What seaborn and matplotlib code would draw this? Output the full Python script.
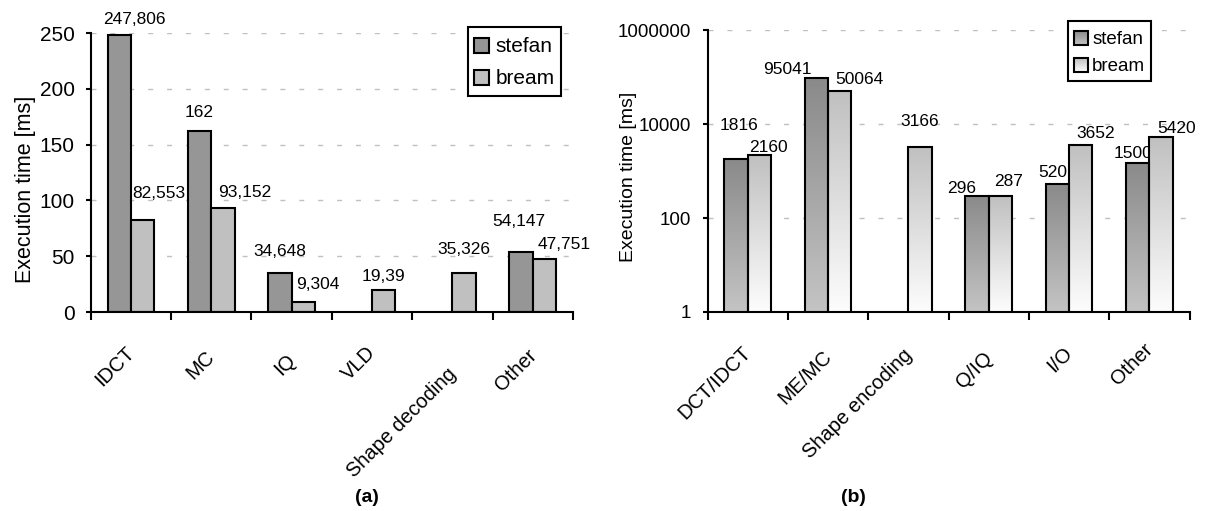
import numpy as np
import pandas as pd
import matplotlib
matplotlib.use("Agg")
import matplotlib.pyplot as plt
import seaborn as sns
from matplotlib.colors import LinearSegmentedColormap, Normalize
from matplotlib.legend_handler import HandlerBase
from matplotlib.image import BboxImage
from matplotlib.transforms import Bbox, TransformedBbox
from matplotlib.patches import Rectangle, Patch
from matplotlib.ticker import FixedLocator, FixedFormatter

# ---------------- data ----------------
series = ["stefan", "bream"]

cats_a = ["IDCT", "MC", "IQ", "VLD", "Shape decoding", "Other"]
stefan_a = [247.806, 162, 34.648, np.nan, np.nan, 54.147]
bream_a = [82.553, 93.152, 9.304, 19.39, 35.326, 47.751]

cats_b = ["DCT/IDCT", "ME/MC", "Shape encoding", "Q/IQ", "I/O", "Other"]
stefan_b = [1816, 95041, np.nan, 296, 520, 1500]
bream_b = [2160, 50064, 3166, 287, 3652, 5420]

ticks_a = [0, 50, 100, 150, 200, 250]
ticks_b = [1, 100, 10000, 1000000]
tick_labels_b = ["1", "100", "10000", "1000000"]

# ---------------- layout helpers (pixels) ----------------
nudge_a = {"stefan": [(15, 11), (0, 14), (0, 17), None, None, (-2, 26)],
           "bream": [(16, 22), (22, 11), (14, 13), (0, 9), (0, 19), (20, 10)]}
nudge_b = {"stefan": [(3, 29), (-29, 4), None, (-15, 3), (-4, 7), (-5, 5)],
           "bream": [(9, 3), (20, 7), (0, 21), (8, 10), (15, 7), (16, 4)]}
xlab_drop_a = [31, 35, 38, 31, 52, 34]
xlab_drop_b = [31, 35, 34, 36, 31, 28]

# ---------------- style ----------------
sns.set_style("white")
plt.rcParams["font.family"] = ["Liberation Sans", "DejaVu Sans"]
plt.rcParams.update({"text.color": "black", "axes.labelcolor": "black",
                     "xtick.color": "black", "ytick.color": "black"})

W, H = 1206, 511
fig = plt.figure(figsize=(W / 100, H / 100), dpi=100)
axA = fig.add_axes([90.7 / W, 1 - 312 / H, 482.3 / W, 279 / H])
axB = fig.add_axes([707.5 / W, 1 - 312 / H, 482 / W, 282 / H])


def long_df(cats, s, b):
    rows = []
    for c, v in zip(cats, s):
        if not np.isnan(v):
            rows.append((c, "stefan", v))
    for c, v in zip(cats, b):
        if not np.isnan(v):
            rows.append((c, "bream", v))
    return pd.DataFrame(rows, columns=["cat", "series", "val"])


def fmt(v):
    return f"{v:g}".replace(".", ",")


grid_ls = (0, (3.6, 10.0))


def style_axis(ax, cats, tick_fs, drops):
    ax.set_axisbelow(True)
    for sp in ["top", "right"]:
        ax.spines[sp].set_visible(False)
    for sp in ["left", "bottom"]:
        ax.spines[sp].set_linewidth(1.5)
        ax.spines[sp].set_color("black")
    ax.set_xlim(-0.5, len(cats) - 0.5)
    ax.set_xticks(range(len(cats)))
    ax.set_xticklabels([])
    ax.set_xticks(np.arange(-0.5, len(cats)), minor=True)
    ax.tick_params(axis="x", which="major", length=0)
    ax.tick_params(axis="x", which="minor", length=5.8, width=1.5,
                   direction="out", color="black", bottom=True)
    ax.tick_params(axis="y", which="major", length=3.6, width=1.5,
                   direction="out", color="black", left=True,
                   labelsize=tick_fs, pad=8)
    ax.tick_params(axis="y", which="minor", length=0, left=False)
    ax.yaxis.grid(True, which="major", color="#c0c0c0", lw=1, linestyle=grid_ls)
    ax.xaxis.grid(False)
    ax.set_xlabel("")
    for i, c in enumerate(cats):
        ax.annotate(c, xy=(i, 0), xycoords=ax.get_xaxis_transform(),
                    xytext=(-6, -drops[i]), textcoords="offset pixels",
                    rotation=45, ha="right", va="top", rotation_mode="anchor",
                    fontsize=14.5, annotation_clip=False)


class SquareHandler(HandlerBase):
    def __init__(self, cmap, size_px):
        super().__init__()
        self.cmap = cmap
        self.size = size_px

    def create_artists(self, legend, orig_handle, xdescent, ydescent,
                       width, height, fontsize, trans):
        s = self.size * 72 / 100
        x = -xdescent + (width - s) / 2
        y = -ydescent + (height - s) / 2
        bb = TransformedBbox(Bbox.from_bounds(x, y, s, s), trans)
        img = BboxImage(bb, cmap=self.cmap, norm=Normalize(0, 1),
                        interpolation="bilinear", origin="lower")
        img.set_data(grad)
        rect = Rectangle((x, y), s, s, facecolor="none", edgecolor="black",
                         lw=1.5, transform=trans)
        return [img, rect]


grad = np.linspace(0, 1, 256).reshape(-1, 1)

# ---------------- panel (a) ----------------
colA = {"stefan": "#969696", "bream": "#c0c0c0"}
dfA = long_df(cats_a, stefan_a, bream_a)
sns.barplot(data=dfA, x="cat", y="val", hue="series", order=cats_a,
            hue_order=series, palette=colA,
            saturation=1, width=0.58, edgecolor="black", linewidth=1.5,
            errorbar=None, legend=False, ax=axA)
axA.set_ylim(0, 250)
axA.set_yticks(ticks_a)
style_axis(axA, cats_a, 15, xlab_drop_a)
axA.set_ylabel("Execution time [ms]", fontsize=15.5)
axA.yaxis.set_label_coords((36 - 90.7) / 482.3, (312 - 189) / 279)

vals_a = {"stefan": stefan_a, "bream": bream_a}
for s, cont in zip(series, axA.containers):
    for bar in cont:
        cx = bar.get_x() + bar.get_width() / 2
        i = int(round(cx))
        dx, dy = nudge_a[s][i]
        axA.annotate(fmt(vals_a[s][i]), xy=(cx, bar.get_y() + bar.get_height()),
                     xytext=(dx, dy), textcoords="offset pixels",
                     ha="center", va="baseline", fontsize=12.5, zorder=0.9)

hA = [Patch(facecolor=colA[s]) for s in series]
legA = axA.legend(handles=hA, labels=series, loc="upper right",
                  bbox_to_anchor=(561 / W, 1 - 27 / H),
                  bbox_transform=fig.transFigure, fontsize=15,
                  handler_map={h: SquareHandler(
                      LinearSegmentedColormap.from_list("c", [colA[s], colA[s]]), 15)
                      for h, s in zip(hA, series)},
                  handlelength=0.75, handleheight=1.43, handletextpad=0.3,
                  labelspacing=0.35, borderpad=0.3, borderaxespad=0,
                  fancybox=False, framealpha=1, edgecolor="black")
legA.get_frame().set_linewidth(1.5)

# ---------------- panel (b) ----------------
grad_cols = {"stefan": ("#c4c4c4", "#8a8a8a"),   # (bottom, top)
             "bream": ("#fdfdfd", "#c0c0c0")}
cmaps = {s: LinearSegmentedColormap.from_list(s, list(grad_cols[s])) for s in series}

axB.set_yscale("log")
dfB = long_df(cats_b, stefan_b, bream_b)
sns.barplot(data=dfB, x="cat", y="val", hue="series", order=cats_b,
            hue_order=series, palette={"stefan": "#a8a8a8", "bream": "#e0e0e0"},
            saturation=1, width=0.585, edgecolor="black", linewidth=1.5,
            errorbar=None, legend=False, ax=axB)
axB.set_ylim(1, 1e6)
axB.yaxis.set_major_locator(FixedLocator(ticks_b))
axB.yaxis.set_major_formatter(FixedFormatter(tick_labels_b))
axB.yaxis.set_minor_locator(FixedLocator([]))
style_axis(axB, cats_b, 13.5, xlab_drop_b)
axB.set_ylabel("Execution time [ms]", fontsize=14)
axB.yaxis.set_label_coords((637 - 707.5) / 482, (312 - 177) / 282)
axB.set_autoscale_on(False)

tr = axB.transData + axB.transAxes.inverted()
vals_b = {"stefan": stefan_b, "bream": bream_b}
ybot = axB.get_ylim()[0]
for s, cont in zip(series, axB.containers):
    for bar in cont:
        x0 = bar.get_x()
        x1 = x0 + bar.get_width()
        top = bar.get_y() + bar.get_height()
        (ax0, ay0) = tr.transform((x0, ybot))
        (ax1, ay1) = tr.transform((x1, top))
        im = axB.imshow(grad, cmap=cmaps[s], norm=Normalize(0, 1), origin="lower",
                        extent=(ax0, ax1, ay0, ay1), transform=axB.transAxes,
                        aspect="auto", interpolation="bilinear", zorder=0.95)
        im.set_clip_path(bar)
        bar.set_facecolor("none")
        bar.set_zorder(1)
        cx = (x0 + x1) / 2
        i = int(round(cx))
        dx, dy = nudge_b[s][i]
        axB.annotate(fmt(vals_b[s][i]), xy=(cx, top), xytext=(dx, dy),
                     textcoords="offset pixels", ha="center", va="baseline",
                     fontsize=12.5, zorder=0.9)
axB.set_xlim(-0.5, len(cats_b) - 0.5)
axB.set_ylim(1, 1e6)

hB = [Patch(facecolor="#a8a8a8"), Patch(facecolor="#e0e0e0")]
legB = axB.legend(handles=hB, labels=series, loc="upper right",
                  bbox_to_anchor=(1151 / W, 1 - 21 / H),
                  bbox_transform=fig.transFigure, fontsize=13.5,
                  handler_map={hB[0]: SquareHandler(cmaps["stefan"], 14),
                               hB[1]: SquareHandler(cmaps["bream"], 14)},
                  handlelength=0.75, handleheight=1.41, handletextpad=0.22,
                  labelspacing=0.3, borderpad=0.3, borderaxespad=0,
                  fancybox=False, framealpha=1, edgecolor="black")
legB.get_frame().set_linewidth(1.5)

fig.text(367 / W, 1 - 497 / H, "(a)", ha="center", va="center",
         fontsize=14, fontweight="bold")
fig.text(853 / W, 1 - 497 / H, "(b)", ha="center", va="center",
         fontsize=14, fontweight="bold")

fig.savefig("out.png", dpi=100)
